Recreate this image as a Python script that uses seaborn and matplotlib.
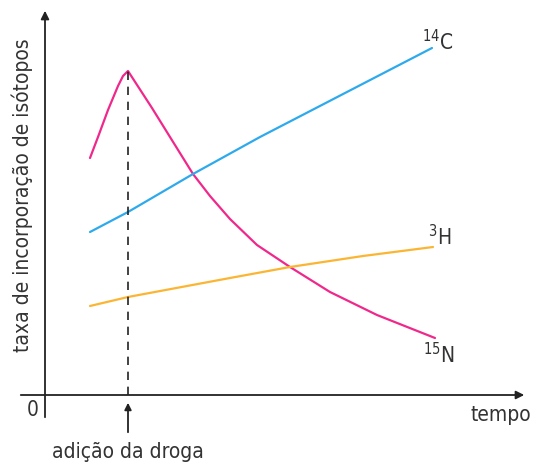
import pandas as pd
import matplotlib.pyplot as plt
import seaborn as sns

# values (time, incorporation rate; arbitrary units)
n15_t = [45, 53, 63, 73, 78, 83, 107, 125, 148, 165, 185, 212, 245, 285, 332, 390]
n15_y = [237, 258, 285, 309, 319, 324, 287, 258, 221, 199, 176, 150, 128, 103, 80, 57]
c14_t = [45, 83, 148, 215, 387]
c14_y = [163, 183, 221, 258, 347]
h3_t = [45, 83, 185, 245, 318, 388]
h3_y = [89, 98, 117, 128, 139, 148]
drug_t = 83

series = [("15N", n15_t, n15_y), ("14C", c14_t, c14_y), ("3H", h3_t, h3_y)]
df = pd.concat([pd.DataFrame({"tempo": t, "taxa": y, "isotopo": name})
                for name, t, y in series], ignore_index=True)
palette = {"15N": "#f0288c", "14C": "#2eaaec", "3H": "#fbb532"}

sns.set_style("white")
plt.rcParams['font.family'] = ['DejaVu Sans']
plt.rcParams['font.stretch'] = 'condensed'

fig = plt.figure(figsize=(5.37, 4.68), dpi=100)
ax = fig.add_axes([0, 0, 1, 1])
sns.lineplot(data=df, x="tempo", y="taxa", hue="isotopo", palette=palette,
             sort=False, estimator=None, linewidth=1.6, legend=False, ax=ax,
             solid_joinstyle="round")
ax.set_xlim(-45, 492)
ax.set_ylim(-73, 395)
ax.axis("off")

# axes with arrows
ax.annotate("", xy=(482, 0), xytext=(-27, 0),
            arrowprops=dict(arrowstyle="-|>", color="#222222", lw=1.3, mutation_scale=12))
ax.annotate("", xy=(0, 387), xytext=(0, -25),
            arrowprops=dict(arrowstyle="-|>", color="#222222", lw=1.3, mutation_scale=12))

# drug addition marker
peak = n15_y[n15_t.index(drug_t)]
ax.plot([drug_t, drug_t], [0, peak], color="#222222", lw=1.2, ls=(0, (5, 4)))
ax.annotate("", xy=(drug_t, -5), xytext=(drug_t, -40),
            arrowprops=dict(arrowstyle="-|>", color="#222222", lw=1.3, mutation_scale=10))

fs = 15
ax.text(drug_t, -57, "adição da droga", ha="center", va="center", fontsize=fs, color="#333333")
ax.text(-12, -15, "0", ha="center", va="center", fontsize=fs, color="#333333")
ax.text(486, -20, "tempo", ha="right", va="center", fontsize=fs, color="#333333")
ax.text(-23, 200, "taxa de incorporação de isótopos", rotation=90, ha="center",
        va="center", fontsize=fs, color="#333333")

ax.text(377, 353, "$^{14}$C", fontsize=fs, color="#333333", va="center")
ax.text(383, 158, "$^{3}$H", fontsize=fs, color="#333333", va="center")
ax.text(378, 40, "$^{15}$N", fontsize=fs, color="#333333", va="center")

fig.savefig("out.png", dpi=100)
